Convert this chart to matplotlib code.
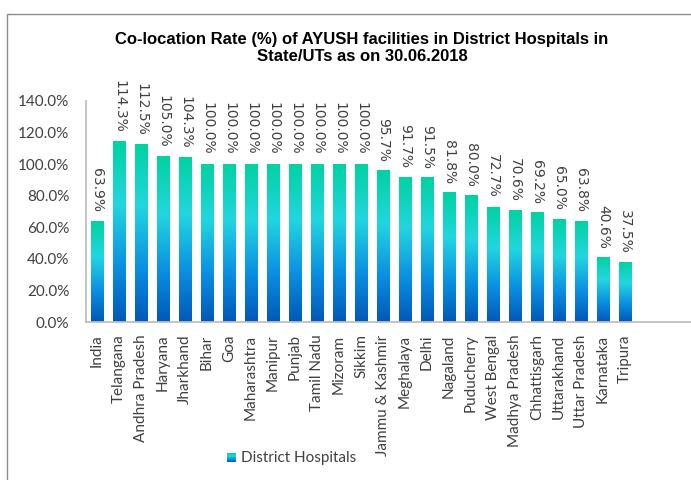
import numpy as np
import matplotlib
matplotlib.use("Agg")
import matplotlib.pyplot as plt
from matplotlib.colors import LinearSegmentedColormap
from matplotlib.patches import Rectangle

# Dados
states = [
    "India", "Telangana", "Andhra Pradesh", "Haryana", "Jharkhand", "Bihar",
    "Goa", "Maharashtra", "Manipur", "Punjab", "Tamil Nadu", "Mizoram",
    "Sikkim", "Jammu & Kashmir", "Meghalaya", "Delhi", "Nagaland",
    "Puducherry", "West Bengal", "Madhya Pradesh", "Chhattisgarh",
    "Uttarakhand", "Uttar Pradesh", "Karnataka", "Tripura",
]
rates = [
    63.9, 114.3, 112.5, 105.0, 104.3, 100.0, 100.0, 100.0, 100.0, 100.0,
    100.0, 100.0, 100.0, 95.7, 91.7, 91.5, 81.8, 80.0, 72.7, 70.6, 69.2,
    65.0, 63.8, 40.6, 37.5,
]
yticks = [0, 20, 40, 60, 80, 100, 120, 140]

title = "Co-location Rate (%) of AYUSH facilities in District Hospitals in\nState/UTs as on 30.06.2018"
legend_label = "District Hospitals"

# Gradiente vertical de cada barra (base azul -> ciano -> verde no topo)
cmap = LinearSegmentedColormap.from_list(
    "bar_grad",
    [(0.0, "#0058b8"), (0.3, "#0a8ee2"), (0.65, "#22d6e0"), (1.0, "#00d2a0")],
)
grad = np.linspace(0, 1, 256).reshape(-1, 1)

fig = plt.figure(figsize=(6.91, 4.80), dpi=100)
ax = fig.add_axes([86 / 691, 1 - 322 / 480, 1 - 86 / 691, 221 / 480])

x = np.arange(len(states))
width = 0.59
bars = ax.bar(x, rates, width=width, color="none", edgecolor="none")

for bar, val in zip(bars, rates):
    x0 = bar.get_x()
    ax.imshow(grad, cmap=cmap, origin="lower", aspect="auto",
              extent=[x0, x0 + width, 0, val], zorder=2, interpolation="bilinear")
    ax.annotate(f"{val:.1f}%", xy=(bar.get_x() + width / 2, val),
                xytext=(0, 6.5), textcoords="offset points",
                rotation=270, ha="center", va="bottom",
                fontsize=10, color="#404040", family="DejaVu Sans")

ax.set_xlim(-0.5, 27.0)
ax.set_ylim(0, 140)
ax.set_yticks(yticks)
ax.set_yticklabels([f"{t:.1f}%" for t in yticks], fontsize=11,
                   color="#404040", family="Lato")
ax.set_xticks(x)
ax.set_xticklabels(states, rotation=90, fontsize=11, color="#404040",
                   family="Lato")
ax.tick_params(axis="x", length=0, pad=9)
ax.tick_params(axis="y", length=0, pad=12)

for side in ["top", "right"]:
    ax.spines[side].set_visible(False)
for side in ["left", "bottom"]:
    ax.spines[side].set_color("#bfbfbf")
    ax.spines[side].set_linewidth(1.3)

# Titulo
fig.text(362 / 691, 1 - 48 / 480, title, ha="center", va="center",
         fontsize=12, fontweight="bold", family="Liberation Sans",
         linespacing=1.15)

# Moldura cinza da área do gráfico
fig.patches.append(Rectangle((7 / 691, -0.05), 1.1, 1 - 14 / 480 + 0.05,
                             transform=fig.transFigure, fill=False,
                             edgecolor="#8a8a8a", linewidth=1.0))

# Legenda com amostra em gradiente
lax = fig.add_axes([227 / 691, 1 - 462 / 480, 9 / 691, 9 / 480])
lax.imshow(grad, cmap=cmap, origin="lower", aspect="auto")
lax.axis("off")
fig.text(241 / 691, 1 - 458 / 480, legend_label, ha="left", va="center",
         fontsize=11, color="#404040", family="Lato")

fig.savefig("out.png", dpi=100)
